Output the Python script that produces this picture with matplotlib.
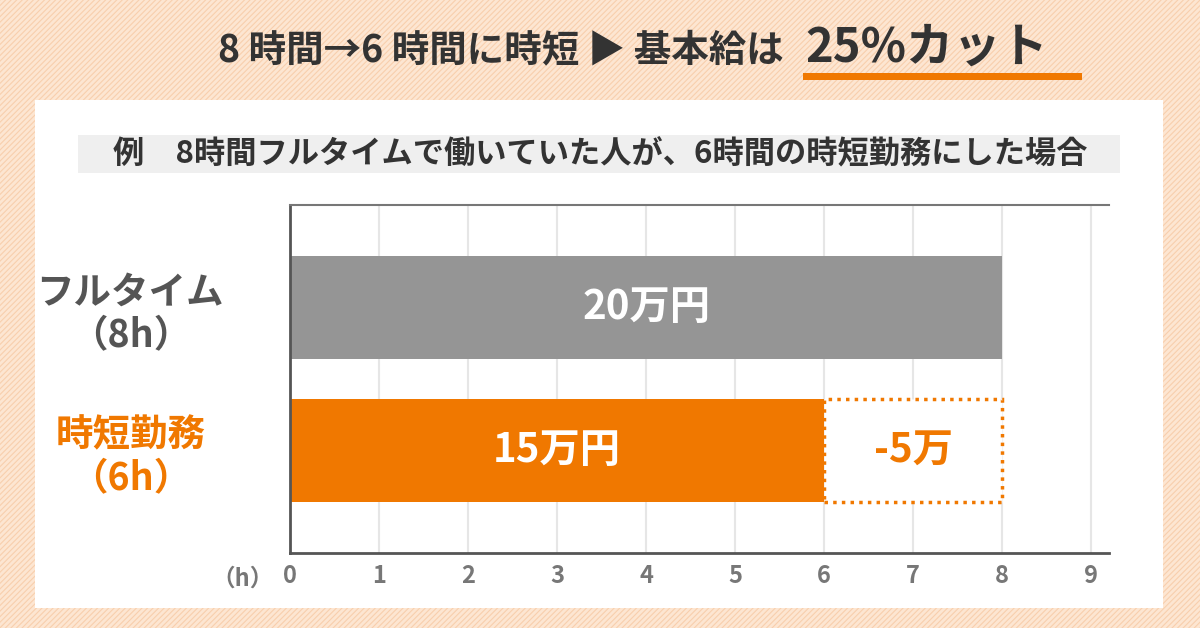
import matplotlib
matplotlib.use('Agg')
import matplotlib.pyplot as plt
from matplotlib.patches import Rectangle

plt.rcParams['font.family'] = ['Noto Sans CJK JP', 'DejaVu Sans']
plt.rcParams['hatch.color'] = '#f5c9a6'
plt.rcParams['hatch.linewidth'] = 0.8

categories = ['フルタイム\n（8h）', '時短勤務\n（6h）']
hours = [8, 6]
labels = ['20万円', '15万円']
cut_hours = 2
cut_label = '-5万'
ticks = list(range(10))
orange = '#f07800'
gray = '#959595'

W, H = 1200, 628
fig = plt.figure(figsize=(12, 6.28), dpi=100)
fig.patch.set_facecolor('#fde6d2')
fig.patches.append(Rectangle((0, 0), 1, 1, transform=fig.transFigure, fill=False,
                             hatch='//////', edgecolor='#f8cfad', linewidth=0, zorder=0))
def fx(x): return x / W
def fy(y): return 1 - y / H
fig.patches.append(Rectangle((fx(35), fy(608)), fx(1163) - fx(35), (608 - 100) / H,
                             transform=fig.transFigure, facecolor='white', edgecolor='none', zorder=1))
fig.patches.append(Rectangle((fx(78), fy(173)), fx(1120) - fx(78), (173 - 135) / H,
                             transform=fig.transFigure, facecolor='#efefef', edgecolor='none', zorder=2))

fig.text(fx(792), fy(50), '8 時間→6 時間に時短 ▶ 基本給は ', ha='right', va='center',
         fontsize=27, fontweight='bold', color='#333333', zorder=3)
fig.text(fx(805), fy(48), '25%カット', ha='left', va='center', fontsize=34,
         fontweight='bold', color='#333333', zorder=3)
fig.patches.append(Rectangle((fx(803), fy(80)), fx(1082) - fx(803), 7 / H,
                             transform=fig.transFigure, facecolor=orange, edgecolor='none', zorder=3))
fig.text(fx(600), fy(154), '例　8時間フルタイムで働いていた人が、6時間の時短勤務にした場合',
         ha='center', va='center', fontsize=22.5, fontweight='bold', color='#333333', zorder=3)

x0, x1 = 290, 1109
y0, y1 = 205, 553
ax = fig.add_axes([fx(x0), fy(y1), fx(x1) - fx(x0), (y1 - y0) / H])
ax.set_zorder(5)
ax.set_facecolor('none')
ax.set_xlim(0, 9.2)
ax.set_ylim(-0.5, 2.9)
ax.set_xticks(ticks)
ax.grid(axis='x', color='#e6e6e6', linewidth=1.5)
ax.set_axisbelow(True)
ys = [1.9, 0.5]
bh = 1.0
ax.barh(ys[0], hours[0], height=bh, color=gray)
ax.barh(ys[1], hours[1], height=bh, color=orange)
ax.barh(ys[1], cut_hours, left=hours[1], height=bh, facecolor='white',
        edgecolor=orange, linestyle=(0, (1, 1.5)), linewidth=2.5)
ax.text(hours[0] / 2, ys[0], labels[0], ha='center', va='center', color='white', fontsize=29, fontweight='bold')
ax.text(hours[1] / 2, ys[1], labels[1], ha='center', va='center', color='white', fontsize=29, fontweight='bold')
ax.text(hours[1] + cut_hours / 2, ys[1], cut_label, ha='center', va='center', color=orange, fontsize=29, fontweight='bold')
ax.set_yticks(ys)
ax.set_yticklabels(categories, fontsize=27, fontweight='bold', linespacing=1.15, ha='center')
for t, c in zip(ax.get_yticklabels(), ['#555555', orange]):
    t.set_color(c)
ax.tick_params(axis='y', length=0, pad=115)
ax.tick_params(axis='x', length=0, labelsize=17, labelcolor='#777777', pad=8)
for t in ax.get_xticklabels():
    t.set_fontweight('bold')
for s in ['left', 'bottom']:
    ax.spines[s].set_color('#555555'); ax.spines[s].set_linewidth(2)
ax.spines['top'].set_color('#777777'); ax.spines['top'].set_linewidth(1.5)
ax.spines['right'].set_visible(False)
fig.text(fx(243), fy(579), '（h）', ha='center', va='center', fontsize=17, fontweight='bold', color='#777777')

fig.savefig('out.png', dpi=100, facecolor=fig.get_facecolor())
